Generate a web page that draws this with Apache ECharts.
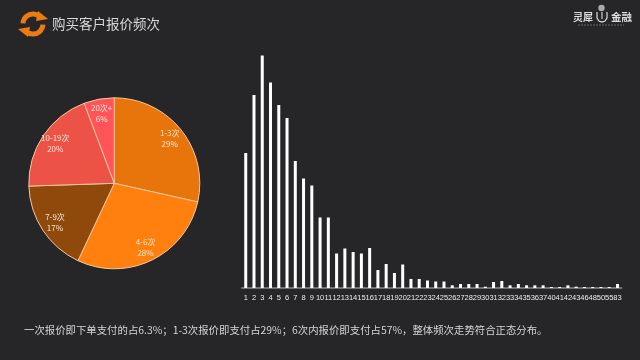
<!DOCTYPE html>
<html>
<head>
<meta charset="utf-8">
<title>购买客户报价频次</title>
<script src="https://cdn.jsdelivr.net/npm/echarts@6/dist/echarts.min.js"></script>
<style>
  html, body { margin: 0; padding: 0; background: #262628; }
  #chart { width: 640px; height: 360px; }
</style>
</head>
<body>
<div id="chart"></div>
<script>
// pie: share of buyers by number of quotes
const pieNames = ["1-3次", "4-6次", "7-9次", "10-19次", "20次+"];
const pieValues = [28.5, 28.49, 17.49, 19.8, 5.72];
const pieColors = ["#E8740C", "#FF800E", "#8F4A0B", "#EC5346", "#FF5558"];

// bars: quote count and how often it occurs (no scale shown)
const quoteCounts = [
  "1", "2", "3", "4", "5", "6", "7", "8", "9", "10", "11", "12",
  "13", "14", "15", "16", "17", "18", "19", "20", "21", "22", "23", "24",
  "25", "26", "27", "28", "29", "30", "31", "32", "33", "34", "35", "36",
  "37", "40", "41", "42", "43", "46", "48", "50", "55", "83"
];
const frequency = [
  135, 193, 232.5, 205.5, 183, 170, 127, 109.5, 102.5, 70.5, 70.5, 34.5,
  39.5, 36, 34.5, 40, 18, 24, 15, 23.5, 9, 9, 7.5, 6.5,
  6.5, 2.7, 4, 4, 4, 1.3, 6, 7, 2.7, 4, 2.7, 2.7,
  2.7, 1, 1, 2.7, 1.3, 1, 1, 1, 1, 4
];

const titleText = "购买客户报价频次";
const noteText = "一次报价即下单支付的占6.3%；1-3次报价即支付占29%；6次内报价即支付占57%，整体频次走势符合正态分布。";

const pieData = pieNames.map((name, i) => ({
  name: name,
  value: pieValues[i],
  itemStyle: { color: pieColors[i] },
}));

const chart = echarts.init(document.getElementById("chart"), null, { renderer: "canvas" });

chart.setOption({
  backgroundColor: "#262628",
  animation: false,
  title: [
    {
      text: titleText,
      left: 47,
      top: 12,
      textStyle: { color: "#d8d8d8", fontSize: 13.5, fontWeight: "normal", fontFamily: "Noto Sans CJK SC" },
    },
    {
      text: noteText,
      left: 19,
      top: 320,
      textStyle: { color: "#d4d4d4", fontSize: 10.4, fontWeight: "normal", fontFamily: "Noto Sans CJK SC" },
    },
  ],
  grid: { left: 241.6, top: 38, width: 380, height: 250 },
  xAxis: {
    type: "category",
    data: quoteCounts,
    axisTick: { show: false },
    axisLine: { lineStyle: { color: "#8a8a8a", width: 1.5 } },
    axisLabel: {
      interval: 0,
      hideOverlap: false,
      color: "#ececec",
      fontSize: 7.5,
      margin: 6,
      fontFamily: "Liberation Sans",
    },
  },
  yAxis: {
    type: "value",
    min: 0,
    max: 250,
    show: false,
    splitLine: { show: false },
  },
  series: [
    {
      type: "pie",
      center: [114.3, 183.3],
      radius: [0, 85.5],
      startAngle: 90,
      clockwise: true,
      silent: true,
      label: { show: false },
      labelLine: { show: false },
      itemStyle: { borderColor: "#F4C79E", borderWidth: 1 },
      data: pieData,
    },
    {
      // transparent ring that only carries the labels out near the rim
      type: "pie",
      center: [114.3, 183.3],
      radius: [51, 85],
      startAngle: 90,
      clockwise: true,
      silent: true,
      itemStyle: { color: "transparent", borderWidth: 0 },
      label: {
        show: true,
        position: "inside",
        color: "#f6e6d6",
        fontSize: 8,
        lineHeight: 11,
        fontFamily: "Noto Sans CJK SC",
        formatter: (p) => p.name + "\n" + Math.round(p.value) + "%",
      },
      labelLine: { show: false },
      data: pieNames.map((name, i) => ({ name: name, value: pieValues[i] })),
    },
    {
      type: "bar",
      data: frequency,
      barWidth: 3,
      itemStyle: { color: "#ffffff" },
    },
  ],
  graphic: [
    // refresh style icon next to the title
    {
      type: "arc",
      shape: { cx: 33, cy: 24, r: 10, startAngle: Math.PI * 1.02, endAngle: Math.PI * 1.72 },
      style: { fill: "none", stroke: "#EE7A12", lineWidth: 5 },
    },
    {
      type: "arc",
      shape: { cx: 33, cy: 24, r: 10, startAngle: Math.PI * 0.02, endAngle: Math.PI * 0.72 },
      style: { fill: "none", stroke: "#EE7A12", lineWidth: 5 },
    },
    {
      type: "polygon",
      shape: { points: [[38, 11], [48, 19], [36, 21]] },
      style: { fill: "#EE7A12" },
    },
    {
      type: "polygon",
      shape: { points: [[28, 37], [18, 29], [30, 27]] },
      style: { fill: "#EE7A12" },
    },
    // logo at the top right
    {
      type: "text",
      x: 573,
      y: 12,
      style: { text: "灵犀", fill: "#dddddd", fontSize: 10, fontWeight: "bold", fontFamily: "Noto Sans CJK SC" },
    },
    {
      type: "text",
      x: 611,
      y: 12,
      style: { text: "金融", fill: "#dddddd", fontSize: 10.5, fontWeight: "bold", fontFamily: "Noto Sans CJK SC" },
    },
    {
      type: "polyline",
      shape: { points: [[597, 12], [597, 18], [599, 21], [602, 22], [605, 21], [607, 18], [607, 12]] },
      style: { fill: "none", stroke: "#dddddd", lineWidth: 1.2 },
    },
    {
      type: "line",
      shape: { x1: 602, y1: 12, x2: 602, y2: 19 },
      style: { stroke: "#cccccc", lineWidth: 1.2 },
    },
    {
      type: "circle",
      shape: { cx: 601.5, cy: 8, r: 3.2 },
      style: { fill: "#aaaaaa" },
    },
    {
      type: "line",
      shape: { x1: 578, y1: 25, x2: 624, y2: 25 },
      style: { stroke: "#666666", lineWidth: 1, lineDash: [2, 1] },
    },
  ],
});
</script>
</body>
</html>
